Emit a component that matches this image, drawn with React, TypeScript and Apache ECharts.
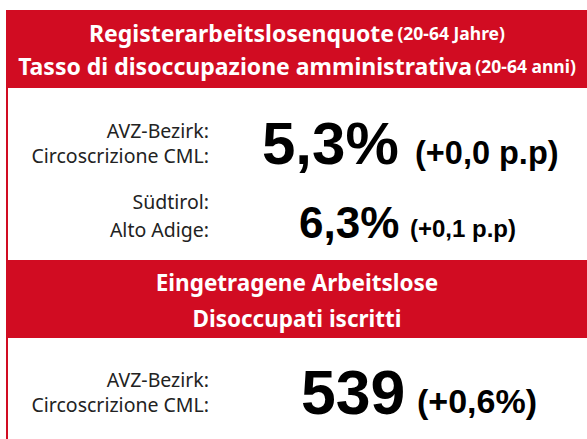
import React, { useEffect, useRef } from "react";
import * as echarts from "echarts";

const headers1 = [
  { main: "Registerarbeitslosenquote", sub: "(20-64 Jahre)" },
  { main: "Tasso di disoccupazione amministrativa", sub: "(20-64 anni)" },
];
const headers2 = ["Eingetragene Arbeitslose", "Disoccupati iscritti"];
const labelsAVZ = ["AVZ-Bezirk:", "Circoscrizione CML:"];
const labelsST = ["Südtirol:", "Alto Adige:"];
const rateValues = ["5,3%", "6,3%"];
const rateChanges = ["(+0,0 p.p)", "(+0,1 p.p)"];
const countValues = ["539"];
const countChanges = ["(+0,6%)"];

const RED = "#D10C22";
const LABEL_FONT = "'Noto Sans', sans-serif";
const HEAD_FONT = "'Noto Sans', sans-serif";
const NUM_FONT = "'Liberation Sans', Arial, sans-serif";

export default function App() {
  const ref = useRef<HTMLDivElement>(null);
  useEffect(() => {
    document.body.style.margin = "0";
    const chart = echarts.init(ref.current!, undefined, { renderer: "svg" });
    const label = (text: string, y: number) => ({
      type: "text",
      x: 209,
      y,
      style: {
        text,
        fill: "#222",
        font: `19.5px ${LABEL_FONT}`,
        align: "right",
        verticalAlign: "middle",
      },
    });
    const headRich = (main: string, sub: string, y: number) => ({
      type: "text",
      x: 297,
      y,
      style: {
        text: `{a|${main}} {b|${sub}}`,
        align: "center",
        verticalAlign: "middle",
        rich: {
          a: { fill: "#fff", fontFamily: HEAD_FONT, fontWeight: "bold", fontSize: 23 },
          b: { fill: "#fff", fontFamily: HEAD_FONT, fontWeight: "bold", fontSize: 17.5 },
        },
      },
    });
    const head = (text: string, y: number) => ({
      type: "text",
      x: 297,
      y,
      style: {
        text,
        fill: "#fff",
        font: `bold 22.5px ${HEAD_FONT}`,
        align: "center",
        verticalAlign: "middle",
      },
    });
    const num = (text: string, x: number, y: number, size: number, align = "left") => ({
      type: "text",
      x,
      y,
      style: {
        text,
        fill: "#000",
        font: `bold ${size}px ${NUM_FONT}`,
        align,
        verticalAlign: "middle",
      },
    });
    chart.setOption({
      animation: false,
      graphic: [
        { type: "rect", shape: { x: 6, y: 10, width: 600, height: 78 }, style: { fill: RED } },
        { type: "rect", shape: { x: 6, y: 88, width: 2, height: 360 }, style: { fill: RED } },
        { type: "rect", shape: { x: 6, y: 260, width: 600, height: 78 }, style: { fill: RED } },
        headRich(headers1[0].main, headers1[0].sub, 33),
        headRich(headers1[1].main, headers1[1].sub, 66),
        label(labelsAVZ[0], 130),
        label(labelsAVZ[1], 155),
        num(rateValues[0], 262, 143, 60),
        num(rateChanges[0], 415, 153, 32.5),
        label(labelsST[0], 201),
        label(labelsST[1], 229),
        num(rateValues[1], 299, 222, 44),
        num(rateChanges[1], 410, 228, 24),
        head(headers2[0], 282),
        head(headers2[1], 318),
        label(labelsAVZ[0], 379),
        label(labelsAVZ[1], 404),
        num(countValues[0], 301, 392, 62.5),
        num(countChanges[0], 417, 401, 34),
      ],
    });
    return () => chart.dispose();
  }, []);
  return <div ref={ref} style={{ width: 587, height: 439 }} />;
}
